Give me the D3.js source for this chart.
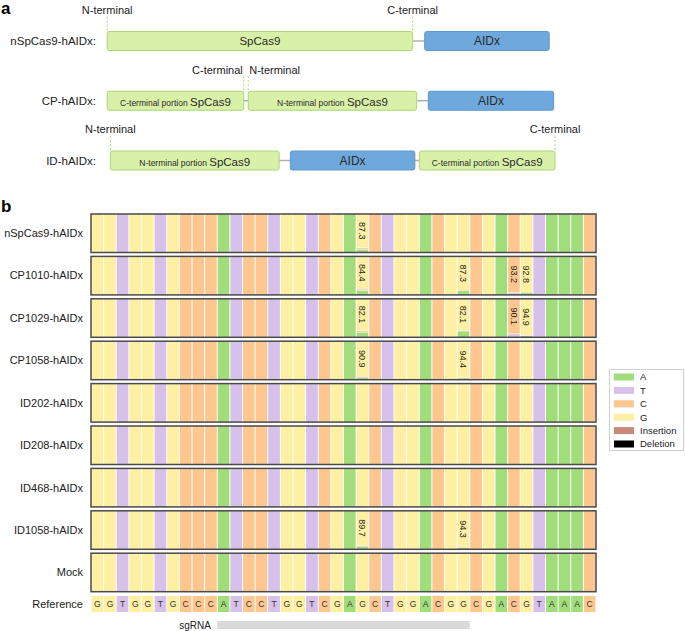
<!DOCTYPE html>
<html>
<head>
<meta charset="utf-8">
<script src="https://cdn.jsdelivr.net/npm/d3@7"></script>
<style>
  html, body { margin: 0; padding: 0; background: #fff; }
  svg { display: block; font-family: "Liberation Sans", Arial, Helvetica, sans-serif; }
</style>
</head>
<body>
<svg id="chart" width="685" height="631"></svg>
<script>
// ---------------- DATA ----------------
// Panel a: constructs and their domains (relative diagram units 0..100)
const constructs = ["nSpCas9-hAIDx:", "CP-hAIDx:", "ID-hAIDx:"];
const segConstruct = [0, 0, 1, 1, 1, 2, 2, 2];
const segSmall     = ["", "", "C-terminal portion", "N-terminal portion", "", "N-terminal portion", "", "C-terminal portion"];
const segName      = ["SpCas9", "AIDx", "SpCas9", "SpCas9", "AIDx", "SpCas9", "AIDx", "SpCas9"];
const segStart     = [0, 70.9, 0, 31.5, 71.7, 0.7, 40.9, 69.7];
const segEnd       = [68.2, 98.7, 30.5, 69.1, 99.7, 38.4, 68.7, 100];
const termConstruct = [0, 0, 1, 1, 2, 2];
const termLabel     = ["N-terminal", "C-terminal", "C-terminal", "N-terminal", "N-terminal", "C-terminal"];
const termPos       = [0, 68.2, 30.5, 31.5, 0.7, 100];
const termAnchor    = ["middle", "middle", "end", "start", "middle", "middle"];

// Panel b: samples, reference sequence, edited cells
const samples = ["nSpCas9-hAIDx", "CP1010-hAIDx", "CP1029-hAIDx", "CP1058-hAIDx",
                 "ID202-hAIDx", "ID208-hAIDx", "ID468-hAIDx", "ID1058-hAIDx", "Mock"];
const reference = "GGTGGTGCCCATCCTGGTCGAGCTGGACGGCGACGTAAAC".split("");
const sgStart = 10, sgEnd = 29;

const editSample = [0, 1, 1, 1, 1, 2, 2, 2, 2, 3, 3, 7, 7];
const editPos    = [21, 21, 29, 33, 34, 21, 29, 33, 34, 21, 29, 21, 29];
const editMain   = [87.3, 84.4, 87.3, 93.2, 92.8, 82.1, 82.1, 90.1, 94.9, 90.9, 94.4, 89.7, 94.3];
const editA      = [8.9, 11.6, 10.9, 0.4, 6.1, 13.5, 15.2, 0.4, 4.3, 6.2, 4.6, 7.4, 4.7];
const editC      = [3.1, 3.2, 1.2, 0, 0.7, 3.6, 2.0, 0, 0.5, 2.3, 0.7, 2.3, 0.7];
const editT      = [0.7, 0.8, 0.6, 5.6, 0.4, 0.8, 0.7, 8.7, 0.3, 0.6, 0.3, 0.6, 0.3];
const editG      = [0, 0, 0, 0.8, 0, 0, 0, 0.8, 0, 0, 0, 0, 0];

const legendLabels = ["A", "T", "C", "G", "Insertion", "Deletion"];
const legendColors = ["#a1dd7b", "#d7c0ea", "#fec78f", "#fdf0a2", "#c8897b", "#000000"];

// ---------------- DRAW ----------------
const svg = d3.select("#chart");
const baseColor = d3.scaleOrdinal().domain(legendLabels).range(legendColors);

// panel letters
svg.append("text").attr("x", 1).attr("y", 14).attr("font-size", 17).attr("font-weight", "bold").text("a");
svg.append("text").attr("x", 1).attr("y", 212).attr("font-size", 17).attr("font-weight", "bold").text("b");

// ---- Panel a ----
const ax = d3.scaleLinear().domain([0, 100]).range([107.2, 555]);
const rowY = d3.scalePoint().domain(constructs).range([41, 160.5]);
const boxH = 19;

const ga = svg.append("g");
ga.selectAll("text.clabel").data(constructs).join("text")
  .attr("x", 96).attr("y", d => rowY(d)).attr("dy", "0.35em")
  .attr("text-anchor", "end").attr("font-size", 11.5).attr("fill", "#222").text(d => d);

// connectors
constructs.forEach((c, ci) => {
  const idx = segConstruct.map((s, i) => s === ci ? i : -1).filter(i => i >= 0);
  for (let k = 0; k < idx.length - 1; k++) {
    ga.append("line")
      .attr("x1", ax(segEnd[idx[k]])).attr("x2", ax(segStart[idx[k + 1]]))
      .attr("y1", rowY(c)).attr("y2", rowY(c))
      .attr("stroke", "#b0b0b0").attr("stroke-width", 1.5);
  }
});

const segs = segName.map((n, i) => ({ n, small: segSmall[i], c: constructs[segConstruct[i]], s: segStart[i], e: segEnd[i] }));
ga.selectAll("rect.seg").data(segs).join("rect")
  .attr("x", d => ax(d.s)).attr("width", d => ax(d.e) - ax(d.s))
  .attr("y", d => rowY(d.c) - boxH / 2).attr("height", boxH)
  .attr("rx", 2).attr("ry", 2)
  .attr("fill", d => d.n === "AIDx" ? "#6fa8dc" : "#d9f0a8")
  .attr("stroke", d => d.n === "AIDx" ? "#5f98cd" : "#a9d776").attr("stroke-width", 1);

segs.forEach(d => {
  const t = ga.append("text")
    .attr("x", (ax(d.s) + ax(d.e)) / 2).attr("y", rowY(d.c)).attr("dy", "0.35em")
    .attr("text-anchor", "middle").attr("fill", "#2a2a2a");
  if (d.small) {
    t.append("tspan").attr("font-size", 8.5).text(d.small + " ");
    t.append("tspan").attr("font-size", 11.5).text(d.n);
  } else {
    t.attr("font-size", d.n === "AIDx" ? 12 : 11.5).text(d.n);
  }
});

termLabel.forEach((lab, i) => {
  const cy = rowY(constructs[termConstruct[i]]);
  const x = ax(termPos[i]);
  ga.append("line").attr("x1", x).attr("x2", x)
    .attr("y1", cy - boxH / 2 - 15).attr("y2", cy - boxH / 2)
    .attr("stroke", "#a9d776").attr("stroke-width", 1).attr("stroke-dasharray", "2,2");
  ga.append("text")
    .attr("x", termAnchor[i] === "end" ? x - 1 : termAnchor[i] === "start" ? x + 1 : x)
    .attr("y", cy - 31).attr("dy", "0.35em")
    .attr("text-anchor", termAnchor[i]).attr("font-size", 11).attr("fill", "#222").text(lab);
});

// ---- Panel b ----
const x = d3.scaleBand().domain(d3.range(reference.length)).range([91, 596]);
const y = d3.scaleBand().domain(samples).range([214, 591.7]).paddingInner(0.092).paddingOuter(0);
const cw = x.bandwidth();

const gb = svg.append("g");

// build cell stacks
const cells = [];
samples.forEach((s, si) => {
  reference.forEach((b, pi) => {
    const ei = editSample.findIndex((r, k) => r === si && editPos[k] === pi);
    let parts;
    if (ei < 0) parts = [{ base: b, pct: 100 }];
    else {
      const others = [{ base: "A", pct: editA[ei] }, { base: "C", pct: editC[ei] },
                      { base: "T", pct: editT[ei] }, { base: "G", pct: editG[ei] }]
        .filter(o => o.base !== b && o.pct > 0)
        .sort((p, q) => p.pct - q.pct);
      parts = [{ base: b, pct: editMain[ei], main: true }].concat(others);
    }
    let acc = 0;
    parts.forEach(p => { p.y0 = acc; acc += p.pct; p.y1 = acc; });
    cells.push({ s, pi, parts, label: ei >= 0 ? editMain[ei] : null });
  });
});

samples.forEach(s => {
  const yp = d3.scaleLinear().domain([0, 100]).range([y(s), y(s) + y.bandwidth()]);
  const rowCells = cells.filter(c => c.s === s);
  const g = gb.append("g");
  rowCells.forEach(c => {
    g.selectAll(null).data(c.parts).join("rect")
      .attr("x", x(c.pi) + 0.5).attr("width", cw - 1)
      .attr("y", p => yp(p.y0) + (p.y0 > 0 ? 0.5 : 0))
      .attr("height", p => Math.max(0.6, yp(p.y1) - yp(p.y0) - (p.y0 > 0 ? 0.5 : 0)))
      .attr("fill", p => baseColor(p.base));
    if (c.label !== null) {
      const main = c.parts[0];
      const cx = x(c.pi) + cw / 2, cy = (yp(main.y0) + yp(main.y1)) / 2;
      g.append("text").attr("transform", `translate(${cx},${cy}) rotate(90)`)
        .attr("text-anchor", "middle").attr("dy", "0.35em")
        .attr("font-size", 9).attr("fill", "#222").text(c.label.toFixed(1));
    }
  });
  g.append("rect").attr("x", 91).attr("y", y(s))
    .attr("width", 596 - 91).attr("height", y.bandwidth())
    .attr("fill", "none").attr("stroke", "#4a4a4a").attr("stroke-width", 1.5);
  gb.append("text").attr("x", 83).attr("y", y(s) + y.bandwidth() / 2).attr("dy", "0.35em")
    .attr("text-anchor", "end").attr("font-size", 11).attr("fill", "#222").text(s);
});

// reference row
const refY = 596, refH = 16;
gb.selectAll("rect.ref").data(reference).join("rect")
  .attr("x", (d, i) => x(i) + 0.5).attr("width", cw - 1)
  .attr("y", refY).attr("height", refH).attr("fill", d => baseColor(d));
gb.selectAll("text.ref").data(reference).join("text")
  .attr("x", (d, i) => x(i) + cw / 2).attr("y", refY + refH / 2).attr("dy", "0.35em")
  .attr("text-anchor", "middle").attr("font-size", 8.5).attr("fill", "#333").text(d => d);
gb.append("text").attr("x", 83).attr("y", refY + refH / 2).attr("dy", "0.35em")
  .attr("text-anchor", "end").attr("font-size", 11).attr("fill", "#222").text("Reference");

// sgRNA bar
gb.append("rect").attr("x", x(sgStart)).attr("width", x(sgEnd) + cw - x(sgStart))
  .attr("y", 621).attr("height", 8).attr("fill", "#d9d9d9");
gb.append("text").attr("x", 211).attr("y", 625).attr("dy", "0.35em")
  .attr("text-anchor", "end").attr("font-size", 10).attr("fill", "#222").text("sgRNA");

// legend
const lg = svg.append("g");
lg.append("rect").attr("x", 609.5).attr("y", 369.5).attr("width", 74).attr("height", 81)
  .attr("fill", "#fff").attr("stroke", "#d0d0d0");
const ly = d3.scalePoint().domain(legendLabels).range([377, 444]);
lg.selectAll("rect.sw").data(legendLabels).join("rect")
  .attr("x", 614).attr("y", d => ly(d) - 3.5).attr("width", 20).attr("height", 7)
  .attr("fill", d => baseColor(d));
lg.selectAll("text.lt").data(legendLabels).join("text")
  .attr("x", 640).attr("y", d => ly(d)).attr("dy", "0.35em")
  .attr("font-size", 9.5).attr("fill", "#222").text(d => d);
</script>
</body>
</html>
